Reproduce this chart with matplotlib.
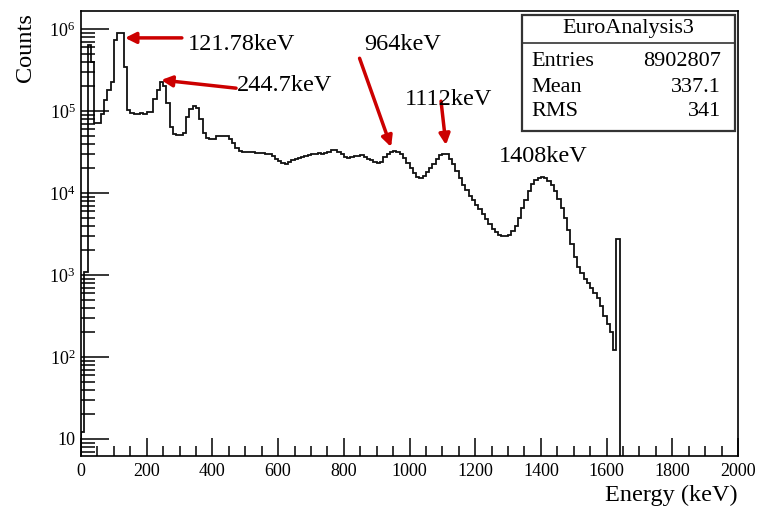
import numpy as np
import matplotlib
matplotlib.use('Agg')
import matplotlib.pyplot as plt
from matplotlib.ticker import MultipleLocator, LogLocator, FuncFormatter, NullFormatter
from matplotlib.patches import Rectangle
from matplotlib.lines import Line2D

# histogram contents, 10 keV bins starting at 0 keV
bin_width = 10
counts = [
    12, 1100, 630000, 400000, 71000, 71000, 93000, 135000, 182000, 229000,
    741000, 891000, 891000, 347000, 102000, 95000, 93000, 93000, 95000, 93000,
    98000, 98000, 141000, 182000, 229000, 200000, 126000, 63000, 52500, 51300,
    51300, 53700, 85000, 107000, 115000, 110000, 79000, 54000, 47000, 45000,
    46000, 49000, 50000, 50000, 49000, 46000, 41000, 35500, 33000, 31600,
    31600, 31600, 31600, 30900, 30900, 30900, 30200, 29500, 28200, 26300,
    24500, 23400, 22900, 24000, 25100, 25700, 26900, 27500, 28200, 28800,
    29500, 30200, 30900, 30200, 30900, 31600, 33100, 33100, 31600, 29500,
    27500, 26900, 27500, 28200, 28200, 28800, 27500, 26300, 25100, 24000,
    23400, 24000, 27500, 30200, 31600, 32400, 31600, 30200, 26900, 23400,
    20000, 17400, 15800, 15100, 16200, 17800, 20000, 22900, 26300, 28800,
    30200, 29500, 26300, 22400, 18600, 15100, 12600, 11000, 9300, 8300,
    7200, 6300, 5600, 4800, 4200, 3600, 3300, 3100, 3000, 3000,
    3100, 3400, 4000, 5000, 6600, 8300, 10500, 12900, 14500, 15100,
    15500, 15100, 14100, 12600, 10700, 8500, 6600, 5000, 3500, 2400,
    1660, 1260, 1050, 890, 790, 690, 600, 525, 420, 316,
    250, 200, 123, 2750, 0,
]
edges = np.arange(len(counts) + 1) * bin_width

peak_labels = ['121.78keV', '244.7keV', '964keV', '1112keV', '1408keV']
stats_title = 'EuroAnalysis3'
stats_names = ['Entries', 'Mean', 'RMS']
stats_values = ['8902807', '337.1', '341']

plt.rcParams['font.family'] = ['Liberation Serif', 'DejaVu Serif']
plt.rcParams['mathtext.fontset'] = 'custom'
plt.rcParams['mathtext.rm'] = 'Liberation Serif'
plt.rcParams['mathtext.it'] = 'Liberation Serif:italic'

W, H = 761, 511
fig = plt.figure(figsize=(W / 100, H / 100), dpi=100)

def fx(x):
    return x / W

def fy(y):
    return 1 - y / H

ax = fig.add_axes([fx(81), fy(456), fx(738) - fx(81), fy(11) - fy(456)])
ax.set_yscale('log', nonpositive='clip')
ax.stairs(counts, edges, color='#111111', lw=1.3)
ax.set_xlim(0, 2000)
ax.set_ylim(6.2, 1.66e6)

ax.xaxis.set_major_locator(MultipleLocator(200))
ax.xaxis.set_minor_locator(MultipleLocator(50))
ax.yaxis.set_major_locator(LogLocator(base=10, numticks=20))
ax.yaxis.set_minor_locator(LogLocator(base=10, subs=np.arange(2, 10), numticks=20))
ax.yaxis.set_minor_formatter(NullFormatter())

def ylab(v, pos):
    e = int(round(np.log10(v)))
    if e == 1:
        return '10'
    return r'$10^{%d}$' % e

ax.yaxis.set_major_formatter(FuncFormatter(ylab))
ax.tick_params(axis='both', which='both', direction='in', top=False, right=False,
               labelsize=13, width=1.1, colors='black')
ax.tick_params(axis='y', which='major', length=20, pad=4)
ax.tick_params(axis='y', which='minor', length=10)
ax.tick_params(axis='x', which='major', length=13, pad=5)
ax.tick_params(axis='x', which='minor', length=7)
for s in ax.spines.values():
    s.set_linewidth(1.2)

fig.text(fx(738), fy(495), 'Energy (keV)', ha='right', va='center', fontsize=17.5)
fig.text(fx(25), fy(48), 'Counts', ha='center', va='center', rotation=90, fontsize=17.5)

# peak annotations
red = '#cc0000'
arrow = dict(arrowstyle='-|>', color=red, lw=2.5, mutation_scale=16, shrinkA=0, shrinkB=0)
fs = 17.5
ax.annotate('', xy=(134, 7.8e5), xytext=(307, 7.8e5), arrowprops=arrow)
ax.text(326, 6.4e5, peak_labels[0], ha='left', va='center', fontsize=fs)
ax.annotate('', xy=(244, 2.39e5), xytext=(472, 1.9e5), arrowprops=arrow)
ax.text(475, 2.07e5, peak_labels[1], ha='left', va='center', fontsize=fs)
ax.annotate('', xy=(944, 3.64e4), xytext=(848, 4.4e5), arrowprops=arrow)
ax.text(980, 6.4e5, peak_labels[2], ha='center', va='center', fontsize=fs)
ax.annotate('', xy=(1111, 3.85e4), xytext=(1096, 1.32e5), arrowprops=arrow)
ax.text(986, 1.4e5, peak_labels[3], ha='left', va='center', fontsize=fs)
ax.text(1406, 2.75e4, peak_labels[4], ha='center', va='center', fontsize=fs)

# stats box
x0, x1, y0, y1, ysep = 522, 735, 15, 131, 43
fig.patches.append(Rectangle((fx(x0), fy(y1)), fx(x1) - fx(x0), fy(y0) - fy(y1),
                             transform=fig.transFigure, facecolor='white',
                             edgecolor='#333333', lw=1.6, zorder=5))
fig.lines.append(Line2D([fx(x0), fx(x1)], [fy(ysep), fy(ysep)], transform=fig.transFigure,
                        color='#333333', lw=1.2, zorder=6))
fig.text(fx((x0 + x1) / 2), fy(29), stats_title, ha='center', va='center', fontsize=16, zorder=7)
for i, (n, v) in enumerate(zip(stats_names, stats_values)):
    yy = fy(62 + i * 25)
    fig.text(fx(531), yy, n, ha='left', va='center', fontsize=16, zorder=7)
    fig.text(fx(721), yy, v, ha='right', va='center', fontsize=16, zorder=7)

fig.savefig('out.png', dpi=100)
